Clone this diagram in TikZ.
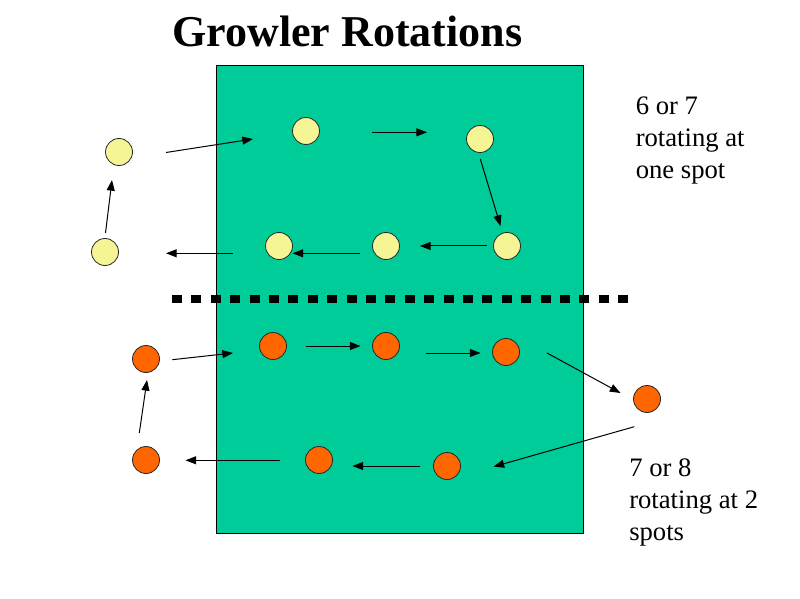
\documentclass[tikz,border=0pt]{standalone}
\usepackage{fontspec}
\setmainfont{Liberation Serif}
\usetikzlibrary{arrows.meta}
\definecolor{court}{HTML}{00CC99}
\definecolor{pale}{HTML}{F5F596}
\definecolor{orng}{HTML}{FF6600}
\tikzset{
  player/.style={circle,draw=black!85,line width=0.6pt,inner sep=0pt,minimum size=20.25pt},
  yel/.style={player,fill=pale},
  org/.style={player,fill=orng},
  mv/.style={line width=0.75pt,-{Triangle[length=8pt,width=6pt]}},
  lbl/.style={anchor=base west,inner sep=0pt,font=\fontsize{20}{24}\selectfont},
}
\begin{document}
\begin{tikzpicture}[x=0.75pt,y=-0.75pt]
\useasboundingbox (0,0) rectangle (800,599);
% court
\node[draw=black,line width=0.75pt,fill=court,inner sep=0pt,minimum width=275.25pt,minimum height=351pt,anchor=north west] (court) at (216,65) {};
% title
\node[anchor=base west,inner sep=0pt,font=\fontsize{33}{40}\selectfont\bfseries] (title) at (172,47) {Growler Rotations};
% divider
\coordinate (d1) at (172,299);
\coordinate (d2) at (628,299);
\draw[line width=6pt,dash pattern=on 7.5pt off 7.05pt] (d1) -- (d2);
% yellow players
\node[yel] (y1) at (119,152) {};
\node[yel] (y2) at (105,252) {};
\node[yel] (y3) at (306,131) {};
\node[yel] (y4) at (480,139) {};
\node[yel] (y5) at (279,246) {};
\node[yel] (y6) at (386,246) {};
\node[yel] (y7) at (507,246) {};
% orange players
\node[org] (o1) at (146,359) {};
\node[org] (o2) at (146,460) {};
\node[org] (o3) at (273,346) {};
\node[org] (o4) at (386,346) {};
\node[org] (o5) at (506,352) {};
\node[org] (o6) at (647,399) {};
\node[org] (o7) at (319,460) {};
\node[org] (o8) at (447,466) {};
% yellow arrows
\coordinate (ya1) at (105.5,233); \coordinate (yb1) at (112,180);
\coordinate (ya2) at (166,152.5); \coordinate (yb2) at (253,139);
\coordinate (ya3) at (372,132.3); \coordinate (yb3) at (427,132.3);
\coordinate (ya4) at (480.3,159); \coordinate (yb4) at (500.5,226);
\coordinate (ya5) at (487,246); \coordinate (yb5) at (420,246);
\coordinate (ya6) at (360,253.3); \coordinate (yb6) at (292.5,253.3);
\coordinate (ya7) at (233,253.3); \coordinate (yb7) at (166,253.3);
\foreach \i in {1,...,7} \draw[mv] (ya\i) -- (yb\i);
% orange arrows
\coordinate (oa1) at (139.3,433); \coordinate (ob1) at (147,380);
\coordinate (oa2) at (172.3,359.7); \coordinate (ob2) at (233,353);
\coordinate (oa3) at (306,346); \coordinate (ob3) at (360.5,346);
\coordinate (oa4) at (426,353); \coordinate (ob4) at (480.5,353);
\coordinate (oa5) at (547,353); \coordinate (ob5) at (620.5,393);
\coordinate (oa6) at (634.3,426.7); \coordinate (ob6) at (493.5,466.7);
\coordinate (oa7) at (420,466); \coordinate (ob7) at (352.5,466);
\coordinate (oa8) at (280,460.3); \coordinate (ob8) at (185.5,460.3);
\foreach \i in {1,...,8} \draw[mv] (oa\i) -- (ob\i);
% labels
\node[lbl] (t1) at (635.5,115) {6 or 7};
\node[lbl] (t2) at (635.5,147) {rotating at};
\node[lbl] (t3) at (635.5,179) {one spot};
\node[lbl] (b1) at (629,476) {7 or 8};
\node[lbl] (b2) at (629,508) {rotating at 2};
\node[lbl] (b3) at (629,540) {spots};
\end{tikzpicture}
\end{document}
